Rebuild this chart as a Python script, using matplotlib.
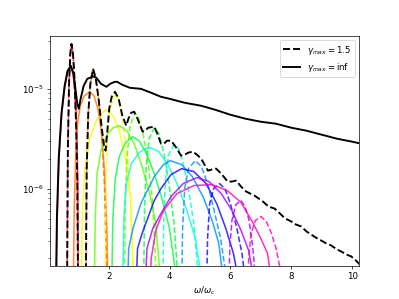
import numpy as np
import matplotlib.pyplot as plt

# (omega/omega_c, log10 of power)
# gamma_max = inf, one list per harmonic
inf_1 = [(0.28, -7.0), (0.31, -6.3), (0.37, -5.7), (0.46, -5.25), (0.56, -4.98), (0.66, -4.82), (0.75, -4.78),
         (0.83, -4.85), (0.9, -5.05), (0.95, -5.35), (0.985, -5.9), (1.0, -7.0)]
inf_2 = [(0.84, -7.0), (0.87, -6.2), (0.92, -5.65), (0.98, -5.35), (1.07, -5.17), (1.2, -5.07), (1.38, -5.03),
         (1.52, -5.07), (1.65, -5.2), (1.77, -5.45), (1.87, -5.85), (1.94, -6.4), (1.98, -7.0)]
inf_3 = [(1.1, -7.0), (1.14, -6.2), (1.22, -5.8), (1.38, -5.5), (1.58, -5.33), (1.78, -5.24), (1.93, -5.21),
         (2.15, -5.27), (2.35, -5.42), (2.55, -5.7), (2.72, -6.1), (2.84, -7.0)]
inf_4 = [(1.53, -7.0), (1.56, -6.3), (1.62, -5.85), (1.75, -5.62), (1.95, -5.46), (2.15, -5.39), (2.35, -5.37),
         (2.6, -5.42), (2.85, -5.56), (3.1, -5.78), (3.35, -6.05), (3.55, -6.35), (3.72, -7.0)]
inf_5 = [(2.1, -7.0), (2.14, -6.3), (2.22, -5.9), (2.35, -5.68), (2.55, -5.54), (2.79, -5.48), (3.0, -5.52),
         (3.25, -5.65), (3.5, -5.85), (3.75, -6.1), (4.0, -6.4), (4.27, -7.0)]
inf_6 = [(2.46, -7.0), (2.5, -6.3), (2.58, -5.95), (2.75, -5.75), (3.0, -5.64), (3.2, -5.6), (3.38, -5.59),
         (3.65, -5.63), (3.95, -5.76), (4.25, -5.95), (4.55, -6.2), (4.85, -6.5), (5.1, -7.0)]
inf_7 = [(2.62, -7.0), (2.66, -6.6), (2.8, -6.4), (3.06, -6.15), (3.5, -5.88), (3.8, -5.76), (4.02, -5.72),
         (4.4, -5.76), (4.75, -5.88), (5.1, -6.08), (5.4, -6.32), (5.62, -6.55), (5.8, -7.0)]
inf_8 = [(2.9, -7.0), (2.95, -6.6), (3.1, -6.45), (3.28, -6.3), (3.5, -6.12), (3.72, -6.0), (4.05, -5.86),
         (4.4, -5.8), (4.8, -5.83), (5.2, -5.95), (5.55, -6.15), (5.85, -6.4), (6.1, -6.65), (6.32, -7.0)]
inf_9 = [(3.2, -7.0), (3.26, -6.6), (3.45, -6.4), (3.72, -6.25), (4.05, -6.08), (4.45, -5.95), (4.9, -5.89),
         (5.3, -5.93), (5.7, -6.05), (6.05, -6.22), (6.35, -6.42), (6.6, -6.62), (6.82, -7.0)]
inf_10 = [(3.35, -7.0), (3.4, -6.7), (3.55, -6.42), (3.8, -6.22), (4.25, -6.05), (4.8, -5.97), (5.4, -5.96),
          (5.9, -6.02), (6.35, -6.14), (6.7, -6.32), (7.0, -6.5), (7.22, -6.65), (7.39, -7.0)]

# gamma_max = 1.5, one list per harmonic
g15_1 = [(0.635, -7.0), (0.66, -5.6), (0.7, -4.95), (0.74, -4.65), (0.78, -4.55), (0.83, -4.65), (0.88, -4.9),
         (0.93, -5.35), (0.97, -5.9), (0.995, -7.0)]
g15_2 = [(1.25, -7.0), (1.28, -5.8), (1.33, -5.25), (1.4, -4.95), (1.49, -4.8), (1.58, -4.9), (1.67, -5.1),
         (1.77, -5.45), (1.86, -5.95), (1.95, -7.0)]
g15_3 = [(1.88, -7.0), (1.91, -6.0), (1.96, -5.5), (2.05, -5.2), (2.21, -5.04), (2.33, -5.12), (2.46, -5.32),
         (2.6, -5.65), (2.72, -6.1), (2.82, -7.0)]
g15_4 = [(2.52, -7.0), (2.55, -6.1), (2.6, -5.7), (2.7, -5.38), (2.86, -5.24), (3.0, -5.3), (3.15, -5.48),
         (3.3, -5.75), (3.45, -6.15), (3.58, -7.0)]
g15_5 = [(3.15, -7.0), (3.18, -6.2), (3.23, -5.8), (3.33, -5.5), (3.5, -5.39), (3.65, -5.45), (3.82, -5.65),
         (3.98, -5.95), (4.15, -6.35), (4.3, -7.0)]
g15_6 = [(3.78, -7.0), (3.81, -6.3), (3.87, -5.9), (3.97, -5.66), (4.15, -5.56), (4.3, -5.6), (4.45, -5.75),
         (4.62, -6.0), (4.8, -6.35), (4.98, -7.0)]
g15_7 = [(4.4, -7.0), (4.43, -6.4), (4.5, -6.0), (4.62, -5.8), (4.85, -5.72), (5.05, -5.78), (5.25, -5.95),
         (5.45, -6.2), (5.68, -6.5), (5.92, -7.0)]
g15_8 = [(5.22, -7.0), (5.25, -6.5), (5.32, -6.15), (5.45, -6.0), (5.64, -5.95), (5.82, -6.0), (6.0, -6.15),
         (6.2, -6.38), (6.38, -6.65), (6.52, -7.0)]
g15_9 = [(5.95, -7.0), (5.98, -6.6), (6.05, -6.32), (6.18, -6.16), (6.35, -6.12), (6.48, -6.18), (6.6, -6.3),
         (6.7, -6.5), (6.77, -6.7), (6.82, -7.0)]
g15_10 = [(6.57, -7.0), (6.6, -6.7), (6.68, -6.45), (6.82, -6.32), (7.01, -6.28), (7.18, -6.33), (7.35, -6.45),
          (7.5, -6.6), (7.62, -6.78), (7.72, -7.0)]

# summed spectra
total_g15 = [(0.635, -7.0), (0.66, -5.6), (0.7, -4.95), (0.74, -4.65), (0.78, -4.55), (0.83, -4.65), (0.88, -4.9),
             (0.93, -5.35), (0.97, -5.9), (0.995, -7.0), (1.25, -7.0), (1.28, -5.8), (1.33, -5.25), (1.4, -4.95),
             (1.49, -4.8), (1.58, -4.9), (1.67, -5.1), (1.77, -5.38), (1.85, -5.58), (1.9, -5.62), (1.95, -5.45),
             (2.02, -5.2), (2.1, -5.08), (2.21, -5.03), (2.33, -5.1), (2.45, -5.27), (2.58, -5.37), (2.65, -5.3),
             (2.74, -5.24), (2.84, -5.23), (2.95, -5.3), (3.05, -5.38), (3.12, -5.43), (3.2, -5.42), (3.3, -5.39),
             (3.5, -5.38), (3.6, -5.45), (3.72, -5.55), (3.82, -5.55), (3.92, -5.52), (4.05, -5.52), (4.2, -5.58),
             (4.38, -5.67), (4.5, -5.66), (4.62, -5.64), (4.76, -5.63), (4.9, -5.66), (5.04, -5.7), (5.15, -5.76),
             (5.26, -5.82), (5.38, -5.81), (5.53, -5.8), (5.7, -5.85), (5.91, -5.93), (6.05, -5.93), (6.19, -5.92),
             (6.35, -5.98), (6.52, -6.03), (6.65, -6.05), (6.79, -6.07), (6.93, -6.1), (7.07, -6.13), (7.25, -6.18),
             (7.45, -6.2), (7.56, -6.23), (7.8, -6.3), (8.0, -6.33), (8.15, -6.36), (8.33, -6.38), (8.5, -6.43),
             (8.65, -6.46), (8.8, -6.49), (8.98, -6.52), (9.15, -6.55), (9.31, -6.57), (9.5, -6.61), (9.64, -6.63),
             (9.8, -6.66), (9.97, -6.68), (10.12, -6.72), (10.28, -6.77)]
total_inf = [(0.27, -7.0), (0.3, -6.3), (0.36, -5.7), (0.45, -5.25), (0.55, -4.98), (0.65, -4.82), (0.76, -4.77),
             (0.84, -4.84), (0.91, -5.0), (0.97, -5.15), (1.02, -5.2), (1.08, -5.1), (1.18, -4.97), (1.3, -4.9),
             (1.5, -4.875), (1.6, -4.89), (1.75, -4.95), (1.93, -4.98), (2.05, -4.95), (2.2, -4.93), (2.28, -4.93),
             (2.45, -4.96), (2.7, -4.99), (3.06, -5.0), (3.4, -5.04), (3.72, -5.08), (4.0, -5.1), (4.5, -5.14),
             (5.04, -5.17), (5.5, -5.21), (6.0, -5.26), (6.5, -5.3), (7.0, -5.33), (7.5, -5.35), (8.0, -5.39),
             (8.5, -5.42), (9.0, -5.46), (9.5, -5.5), (10.0, -5.53), (10.3, -5.55)]

inf_curves = [inf_1, inf_2, inf_3, inf_4, inf_5, inf_6, inf_7, inf_8, inf_9, inf_10]
g15_curves = [g15_1, g15_2, g15_3, g15_4, g15_5, g15_6, g15_7, g15_8, g15_9, g15_10]

colors = plt.cm.gist_rainbow(np.linspace(0, 1, len(inf_curves)))

fig, ax = plt.subplots(figsize=(6.4, 4.8))

for i in range(len(inf_curves)):
    x, y = np.array(inf_curves[i]).T
    ax.plot(x, 10 ** y, color=colors[i], alpha=0.8, lw=1.8)
    x, y = np.array(g15_curves[i]).T
    ax.plot(x, 10 ** y, '--', color=colors[i], alpha=0.8, lw=1.8)

x, y = np.array(total_g15).T
ax.plot(x, 10 ** y, 'k--', lw=2.2, label=r'$\gamma_{max} = 1.5$')
x, y = np.array(total_inf).T
ax.plot(x, 10 ** y, 'k-', lw=2.2, label=r'$\gamma_{max} = $inf')

ax.set_yscale('log')
ax.set_xlim(0.07, 10.23)
ax.set_ylim(10 ** -6.777, 10 ** -4.467)
ax.set_xlabel(r'$\omega/\omega_c$')
ax.legend(loc='upper right')

fig.savefig('out.png', dpi=62.35)
